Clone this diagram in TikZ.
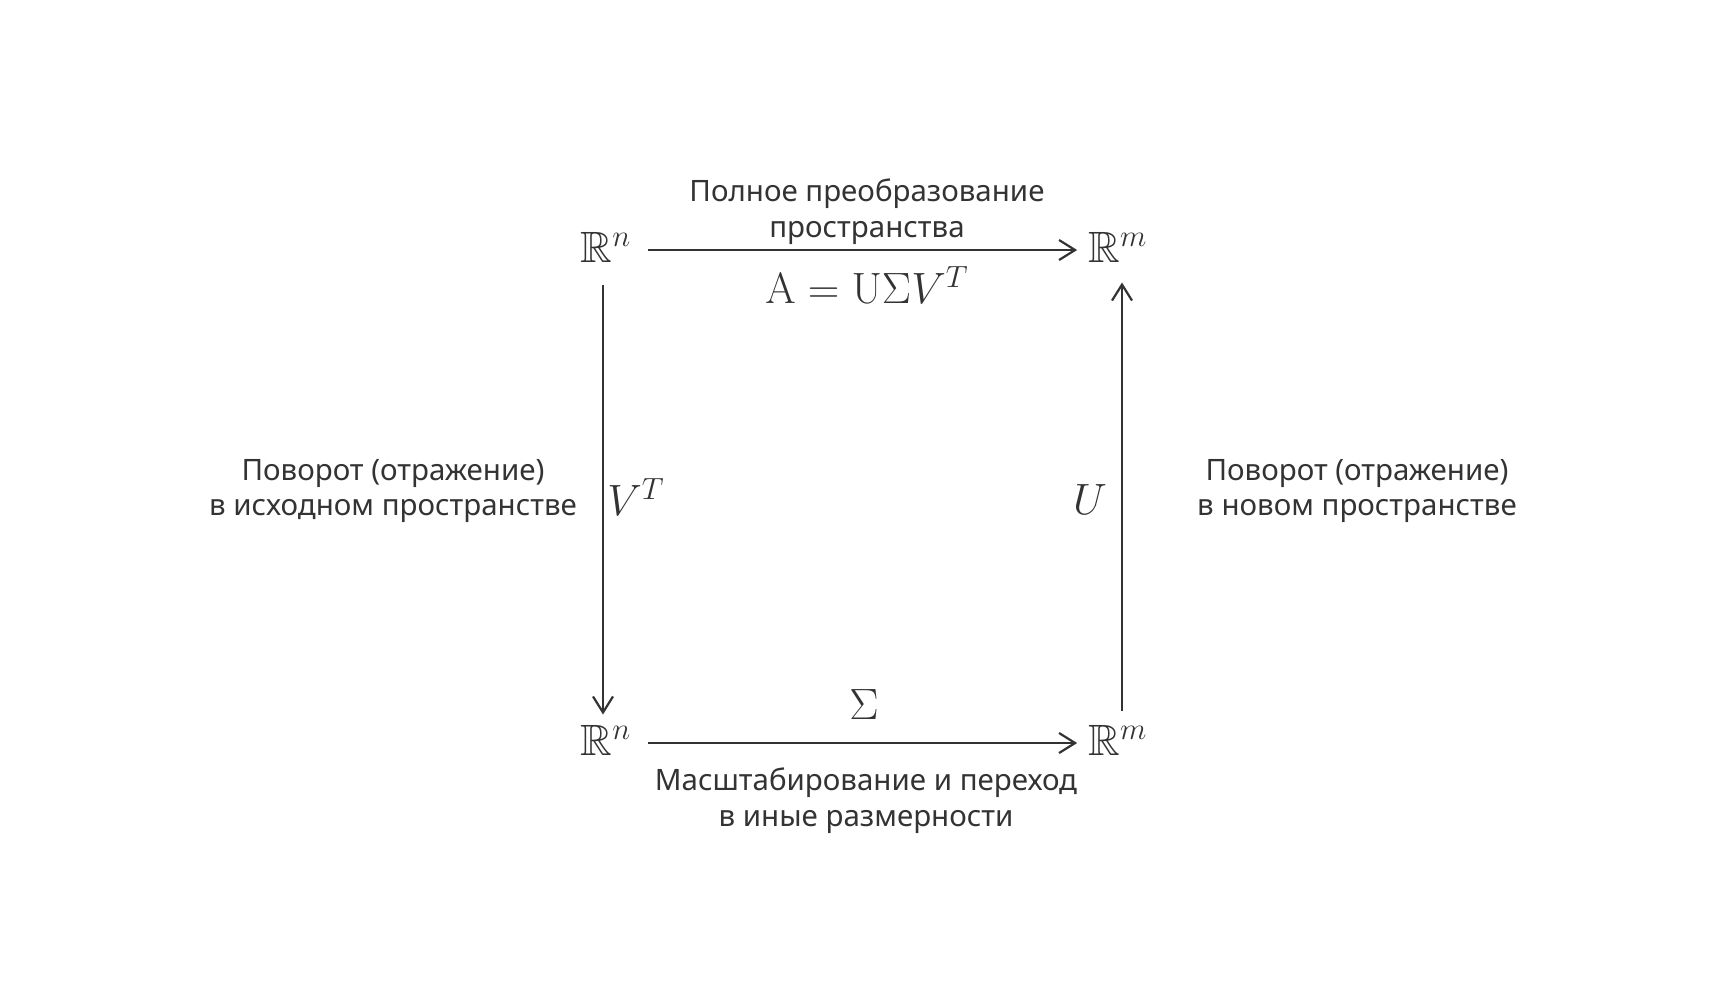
\RequirePackage{fix-cm}
\documentclass[tikz,border=0pt]{standalone}
\usepackage{amsmath,amssymb}
\usepackage[no-math]{fontspec}
\setmainfont{Noto Sans}
\usetikzlibrary{arrows.meta}
\definecolor{ink}{HTML}{333333}

\tikzset{
  space/.style={font=\fontsize{22}{26}\selectfont, inner sep=0pt, text=ink},
  caption/.style={font=\fontsize{14.8}{18}\selectfont, align=center, inner sep=0pt, text=ink},
  map/.style={-{Straight Barb[length=8bp,width=10bp]}, line width=1.1bp, draw=ink},
}

\begin{document}
\begin{tikzpicture}[x=0.5bp,y=-0.5bp]
\useasboundingbox (0,0) rectangle (1724,1001);

% spaces
\node (Rn) at (606,247)[space] {$\mathbb{R}^n$};
\node (Rm) at (1118,247)[space] {$\mathbb{R}^m$};
\node (Rnb) at (606,740)[space] {$\mathbb{R}^n$};
\node (Rmb) at (1118,740)[space] {$\mathbb{R}^m$};

% maps
\draw[map, shorten <=8bp, shorten >=5.5bp] ([yshift=-1.5bp]Rn.east) -- ([yshift=-1.5bp]Rm.west);
\draw[map, shorten <=8bp, shorten >=5.5bp] ([yshift=-1.5bp]Rnb.east) -- ([yshift=-1.5bp]Rmb.west);
\draw[map, shorten <=11bp, shorten >=5bp] ([xshift=-1.5bp]Rn.south) -- ([xshift=-1.5bp]Rnb.north);
\draw[map, shorten <=7bp, shorten >=10bp] ([xshift=2bp]Rmb.north) -- ([xshift=2bp]Rm.south);

% labels
\node (full) at (867,212)[caption] {Полное преобразование\\пространства};
\node (svd) at (867,285)[space] {$\mathrm{A}=\mathrm{U}\Sigma V^T$};
\node (rotl) at (393,491)[caption] {Поворот (отражение)\\в исходном пространстве};
\node (VT) at (636,497)[space] {$V^T$};
\node (U) at (1090,500)[space] {$U$};
\node (rotr) at (1357,491)[caption] {Поворот (отражение)\\в новом пространстве};
\node (S) at (864,705)[space] {$\Sigma$};
\node (scale) at (866,801)[caption] {Масштабирование и переход\\в иные размерности};
\end{tikzpicture}
\end{document}
